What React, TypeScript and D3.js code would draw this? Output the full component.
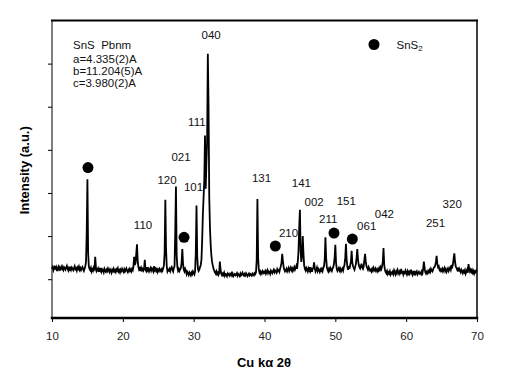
import { useRef, useEffect } from "react";
import * as d3 from "d3";

// scan: 10..70 deg 2theta, 0.1 deg per step
const scanStart = 10;
const scanStep = 0.1;
// intensity (a.u.), one row per degree
const intensity = [
  24, 28, 21, 26, 31, 22, 27, 19, 25, 29,
  23, 27, 20, 26, 30, 24, 21, 28, 25, 22,
  27, 31, 24, 20, 26, 23, 29, 22, 27, 24,
  21, 26, 30, 23, 25, 20, 27, 24, 29, 22,
  26, 21, 25, 28, 23, 19, 24, 30, 40, 107,
  232, 62, 30, 24, 21, 26, 18, 23, 20, 27,
  24, 52, 28, 19, 22, 25, 17, 23, 20, 26,
  18, 23, 21, 16, 24, 20, 17, 22, 19, 25,
  21, 17, 23, 20, 15, 22, 19, 24, 18, 21,
  17, 23, 20, 25, 18, 21, 16, 22, 19, 24,
  20, 17, 23, 18, 22, 25, 19, 16, 21, 24,
  19, 22, 18, 24, 21, 30, 52, 33, 38, 60,
  81, 42, 28, 22, 25, 19, 26, 21, 24, 20,
  24, 45, 22, 19, 28, 21, 24, 18, 22, 26,
  20, 25, 22, 18, 30, 21, 24, 19, 23, 17,
  22, 19, 24, 21, 18, 23, 20, 26, 32, 60,
  184, 70, 30, 18, 22, 20, 24, 19, 25, 28,
  22, 18, 26, 30, 110, 215, 55, 28, 20, 24,
  19, 23, 26, 40, 70, 35, 22, 18, 24, 20,
  12, 17, 14, 10, 16, 13, 9, 15, 12, 18,
  14, 11, 18, 60, 171, 55, 24, 19, 22, 28,
  33, 45, 90, 150, 190, 230, 333, 210, 270, 320,
  523, 404, 190, 120, 80, 55, 40, 32, 25, 20,
  16, 13, 18, 12, 15, 10, 14, 41, 22, 12,
  9, 13, 10, 15, 8, 12, 11, 7, 13, 10,
  12, 8, 11, 14, 9, 13, 7, 10, 12, 9,
  11, 14, 8, 12, 10, 7, 13, 9, 11, 15,
  10, 8, 12, 9, 14, 11, 7, 10, 13, 9,
  12, 10, 8, 13, 11, 9, 14, 12, 16, 45,
  186, 50, 22, 15, 18, 12, 16, 19, 14, 17,
  15, 19, 13, 17, 21, 14, 18, 16, 12, 20,
  17, 14, 19, 22, 16, 20, 18, 15, 23, 19,
  21, 17, 24, 30, 38, 59, 42, 28, 22, 18,
  20, 24, 18, 22, 26, 19, 23, 27, 21, 25,
  19, 23, 28, 22, 26, 31, 24, 40, 65, 120,
  161, 65, 40, 55, 100, 60, 32, 24, 20, 26,
  22, 18, 25, 21, 28, 19, 23, 17, 24, 26,
  39, 25, 18, 22, 27, 19, 24, 21, 17, 23,
  20, 24, 19, 26, 30, 45, 97, 50, 28, 22,
  18, 24, 20, 26, 22, 19, 25, 28, 35, 50,
  80, 38, 24, 19, 22, 26, 20, 24, 18, 22,
  25, 20, 28, 34, 50, 82, 45, 28, 22, 30,
  24, 33, 40, 66, 38, 30, 26, 22, 28, 35,
  50, 70, 45, 34, 28, 25, 30, 36, 27, 24,
  30, 45, 59, 40, 30, 26, 22, 28, 24, 20,
  22, 18, 24, 20, 26, 21, 19, 25, 22, 18,
  23, 20, 26, 22, 28, 24, 30, 40, 72, 34,
  22, 17, 14, 19, 12, 16, 13, 18, 11, 15,
  13, 17, 12, 20, 15, 11, 18, 14, 21, 16,
  12, 18, 15, 24, 13, 19, 11, 16, 14, 20,
  15, 11, 18, 13, 17, 12, 16, 22, 14, 10,
  16, 13, 19, 12, 15, 18, 11, 14, 17, 13,
  15, 12, 18, 14, 24, 41, 26, 16, 13, 17,
  14, 19, 16, 21, 17, 24, 20, 18, 22, 27,
  28, 32, 40, 54, 36, 28, 30, 22, 19, 23,
  20, 24, 18, 22, 26, 19, 23, 17, 21, 25,
  19, 23, 27, 22, 30, 28, 34, 48, 60, 40,
  30, 26, 22, 27, 18, 24, 20, 16, 22, 19,
  14, 19, 16, 21, 13, 18, 22, 15, 35, 24,
  18, 22, 17, 21, 15, 19, 13, 18, 16, 20,
  18,
];

// SnS reflections: label, 2theta and height of label centre
const hklLabels = ["040", "111", "021", "120", "101", "110", "131", "141", "002", "151", "211", "210", "061", "042", "251", "320"];
const hklTheta = [32.47, 30.45, 28.21, 26.24, 29.98, 22.85, 39.58, 45.2, 47.0, 51.55, 49.0, 43.39, 54.43, 56.92, 64.14, 66.5];
const hklHeight = [567, 365, 284, 230, 214, 126, 235, 224, 178, 182, 139, 107, 124, 151, 130, 174];

// SnS2 impurity markers
const sns2Theta = [15.08, 28.64, 41.53, 49.81, 52.4];
const sns2Height = [259, 97, 77, 107, 93];

const xTicks = [10, 20, 30, 40, 50, 60, 70];
const yTicks = [0, 100, 200, 300, 400, 500];

const cellLines = ["a=4.335(2)A", "b=11.204(5)A", "c=3.980(2)A"];

const width = 523;
const height = 387;
const margin = { top: 20.5, right: 46, bottom: 69, left: 52 };
const font = "Arial, 'Liberation Sans', sans-serif";

const App = () => {
  const svgRef = useRef(null);

  useEffect(() => {
    const svgEl = d3.select(svgRef.current);
    svgEl.selectAll("*").remove();

    const x = d3
      .scaleLinear()
      .domain([10, 70])
      .range([margin.left, width - margin.right]);
    const y = d3
      .scaleLinear()
      .domain([-90, 600])
      .range([height - margin.bottom, margin.top]);

    const points = intensity.map((v, i) => [scanStart + i * scanStep, v]);

    // pattern
    svgEl
      .append("path")
      .datum(points)
      .attr("fill", "none")
      .attr("stroke", "#000")
      .attr("stroke-width", 1.8)
      .attr(
        "d",
        d3
          .line()
          .x((d) => x(d[0]))
          .y((d) => y(d[1]))
      );

    // x axis
    const xAxis = d3
      .axisBottom(x)
      .tickValues(xTicks)
      .tickSize(4)
      .tickSizeOuter(0)
      .tickPadding(9.5);
    const xg = svgEl
      .append("g")
      .attr("transform", `translate(0, ${height - margin.bottom})`)
      .call(xAxis);
    xg.select(".domain").remove();
    xg.selectAll("line").attr("stroke", "#000");
    xg.selectAll("text")
      .attr("fill", "#222")
      .attr("font-family", font)
      .attr("font-size", 11.5);

    // y axis, ticks only
    const yAxis = d3
      .axisLeft(y)
      .tickValues(yTicks)
      .tickSize(4)
      .tickSizeOuter(0)
      .tickFormat(() => "");
    const yg = svgEl
      .append("g")
      .attr("transform", `translate(${margin.left}, 0)`)
      .call(yAxis);
    yg.select(".domain").remove();
    yg.selectAll("line").attr("stroke", "#000");

    // frame
    const [x0, x1] = x.range();
    const [yb, yt] = y.range();
    const frame = [
      { a: [x0, yt], b: [x1, yt], w: 2 },
      { a: [x1, yt], b: [x1, yb], w: 1.5 },
      { a: [x0, yb], b: [x1, yb], w: 2.5 },
      { a: [x0, yt], b: [x0, yb], w: 1 },
    ];
    svgEl
      .append("g")
      .selectAll("line")
      .data(frame)
      .join("line")
      .attr("x1", (d) => d.a[0])
      .attr("y1", (d) => d.a[1])
      .attr("x2", (d) => d.b[0])
      .attr("y2", (d) => d.b[1])
      .attr("stroke", "#000")
      .attr("stroke-width", (d) => d.w)
      .attr("stroke-linecap", "square");

    // hkl labels
    svgEl
      .append("g")
      .selectAll("text")
      .data(hklLabels)
      .join("text")
      .attr("x", (d, i) => x(hklTheta[i]))
      .attr("y", (d, i) => y(hklHeight[i]))
      .attr("dy", "0.35em")
      .attr("text-anchor", "middle")
      .attr("font-family", font)
      .attr("font-size", 11.5)
      .attr("fill", "#111")
      .text((d) => d);

    // SnS2 markers
    svgEl
      .append("g")
      .selectAll("circle")
      .data(sns2Theta)
      .join("circle")
      .attr("cx", (d) => x(d))
      .attr("cy", (d, i) => y(sns2Height[i]))
      .attr("r", 5.5)
      .attr("fill", "#000");

    // legend
    svgEl
      .append("circle")
      .attr("cx", 374)
      .attr("cy", 44.5)
      .attr("r", 5.5)
      .attr("fill", "#000");
    const leg = svgEl
      .append("text")
      .attr("x", 396.5)
      .attr("y", 44.5)
      .attr("dy", "0.35em")
      .attr("font-family", font)
      .attr("font-size", 11.5)
      .attr("fill", "#111");
    leg.append("tspan").text("SnS");
    leg.append("tspan").attr("font-size", 8).attr("dy", 2).text("2");

    // cell parameters
    svgEl
      .append("text")
      .attr("x", 73)
      .attr("y", 45)
      .attr("dy", "0.35em")
      .attr("font-family", font)
      .attr("font-size", 11.5)
      .attr("fill", "#111")
      .style("white-space", "pre")
      .text("SnS  Pbnm");
    svgEl
      .append("g")
      .selectAll("text")
      .data(cellLines)
      .join("text")
      .attr("x", 73)
      .attr("y", (d, i) => 59 + i * 12.2)
      .attr("dy", "0.35em")
      .attr("font-family", font)
      .attr("font-size", 11.5)
      .attr("fill", "#111")
      .text((d) => d);

    // axis titles
    svgEl
      .append("text")
      .attr("transform", `translate(24, ${(yt + yb) / 2 + 1}) rotate(-90)`)
      .attr("dy", "0.35em")
      .attr("text-anchor", "middle")
      .attr("font-family", font)
      .attr("font-size", 13)
      .attr("font-weight", "bold")
      .text("Intensity (a.u.)");
    svgEl
      .append("text")
      .attr("x", 264)
      .attr("y", 362)
      .attr("dy", "0.35em")
      .attr("text-anchor", "middle")
      .attr("font-family", font)
      .attr("font-size", 13)
      .attr("font-weight", "bold")
      .text("Cu k\u03b1 2\u03b8");
  }, []);

  return (
    <svg
      ref={svgRef}
      width={width}
      height={height}
      style={{ position: "absolute", left: 0, top: 0, background: "#fff" }}
    ></svg>
  );
};

export default App;
